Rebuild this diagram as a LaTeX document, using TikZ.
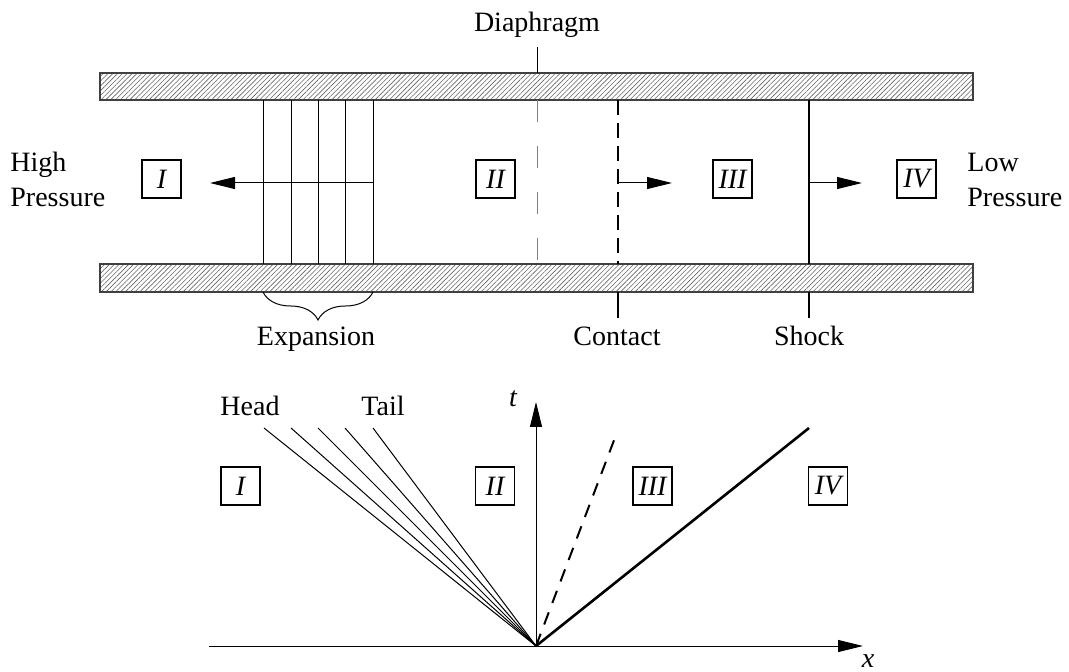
\documentclass[tikz,border=0pt]{standalone}
\usepackage{fontspec}
\setmainfont{Liberation Serif}
\usetikzlibrary{patterns.meta,arrows.meta,decorations.pathreplacing}
\begin{document}
\begin{tikzpicture}[x=0.5pt,y=-0.5pt,
  wall/.style={draw=black!75, line width=0.6pt, pattern={Lines[angle=45,distance=1.7pt,line width=0.3pt]}, pattern color=black!60},
  thinline/.style={line width=0.5pt},
  region/.style={draw, line width=0.9pt, minimum width=19.5pt, minimum height=19pt, inner sep=0pt, font=\fontsize{14}{17.5}\selectfont\itshape},
  lbl/.style={inner sep=0pt, anchor=base},
  arr/.style={line width=0.5pt, -{Triangle[length=12.5pt,width=6pt]}},
  contactline/.style={line width=1.2pt, dash pattern=on 7.5pt off 4pt},
  shockline/.style={line width=1.3pt},
  font=\fontsize{14}{17.5}\selectfont]
\useasboundingbox (0,0) rectangle (1069,672);

% ---------- shock tube ----------
\path[wall] (100,73) rectangle (973,100);
\path[wall] (100,264) rectangle (973,292);

% expansion fan lines in tube
\foreach \xx in {263,291,318,345,373}{
  \draw[thinline] (\xx,100) -- (\xx,264);
}
\coordinate (expR) at (373,183);
\coordinate (expL) at (210,183);
\draw[arr] (expR) -- (expL);

% diaphragm
\node[lbl] (diaph) at (537,32) {Diaphragm};
\coordinate (dT) at (537,47);
\coordinate (dW) at (537,73);
\draw[thinline] (dT) -- (dW);
\coordinate (dA) at (537,100);
\coordinate (dB) at (537,264);
\draw[thinline, gray, dash pattern=on 11pt off 12pt] (dA) -- (dB);

% contact
\coordinate (cA) at (618,100);
\coordinate (cB) at (618,264);
\draw[contactline] (cA) -- (cB);
\coordinate (cC) at (618,292);
\coordinate (cD) at (618,318);
\draw[line width=1.2pt] (cC) -- (cD);
\coordinate (cArrS) at (618,183);
\coordinate (cArrE) at (672,183);
\draw[arr] (cArrS) -- (cArrE);
\node[lbl] (contact) at (617,346) {Contact};

% shock
\coordinate (sA) at (809,100);
\coordinate (sB) at (809,264);
\draw[shockline] (sA) -- (sB);
\coordinate (sC) at (809,292);
\coordinate (sD) at (809,318);
\draw[shockline] (sC) -- (sD);
\coordinate (sArrS) at (809,183);
\coordinate (sArrE) at (862,183);
\draw[arr] (sArrS) -- (sArrE);
\node[lbl] (shock) at (809,346) {Shock};

% expansion brace
\coordinate (bL) at (263,292);
\coordinate (bR) at (373,292);
\draw[thinline, decorate, decoration={brace, mirror, amplitude=14pt}] (bL) -- (bR);
\node[lbl] (expansion) at (316,346) {Expansion};

% region boxes (tube)
\node[region] (tI) at (161.5,179) {I};
\node[region] (tII) at (495.5,179) {II};
\node[region] (tIII) at (732.5,179) {III};
\node[region] (tIV) at (916.5,179) {IV};

% pressure labels
\node[inner sep=0pt, anchor=base west] (high) at (10,172) {\begin{tabular}[t]{@{}l@{}}High\\Pressure\end{tabular}};
\node[inner sep=0pt, anchor=base west] (low) at (967,172) {\begin{tabular}[t]{@{}l@{}}Low\\Pressure\end{tabular}};

% ---------- x-t diagram ----------
\coordinate (O) at (536,646);
\coordinate (xL) at (209,646);
\coordinate (xR) at (863,646);
\coordinate (tT) at (536,402);
\draw[thinline] (xL) -- (O);
\draw[arr] (O) -- (xR);
\draw[arr] (O) -- (tT);
\node[lbl, font=\fontsize{14}{17.5}\selectfont\itshape] (tlab) at (513,407) {t};
\node[lbl, font=\fontsize{14}{17.5}\selectfont\itshape] (xlab) at (868,667) {x};

% fan
\foreach \xx [count=\i] in {264,291,318,345,373}{
  \coordinate (f\i) at (\xx,428);
  \draw[thinline] (O) -- (f\i);
}
\node[lbl] (head) at (250,416) {Head};
\node[lbl] (tail) at (383,416) {Tail};

% contact and shock in x-t
\coordinate (cxt) at (616,435);
\draw[line width=1pt, dash pattern=on 6.5pt off 5pt] (O) -- (cxt);
\coordinate (sxt) at (809,428);
\draw[shockline] (O) -- (sxt);

% region boxes (x-t)
\node[region] (bI) at (240.5,486) {I};
\node[region] (bII) at (495,486) {II};
\node[region] (bIII) at (652.5,486) {III};
\node[region] (bIV) at (828,486) {IV};
\end{tikzpicture}
\end{document}
